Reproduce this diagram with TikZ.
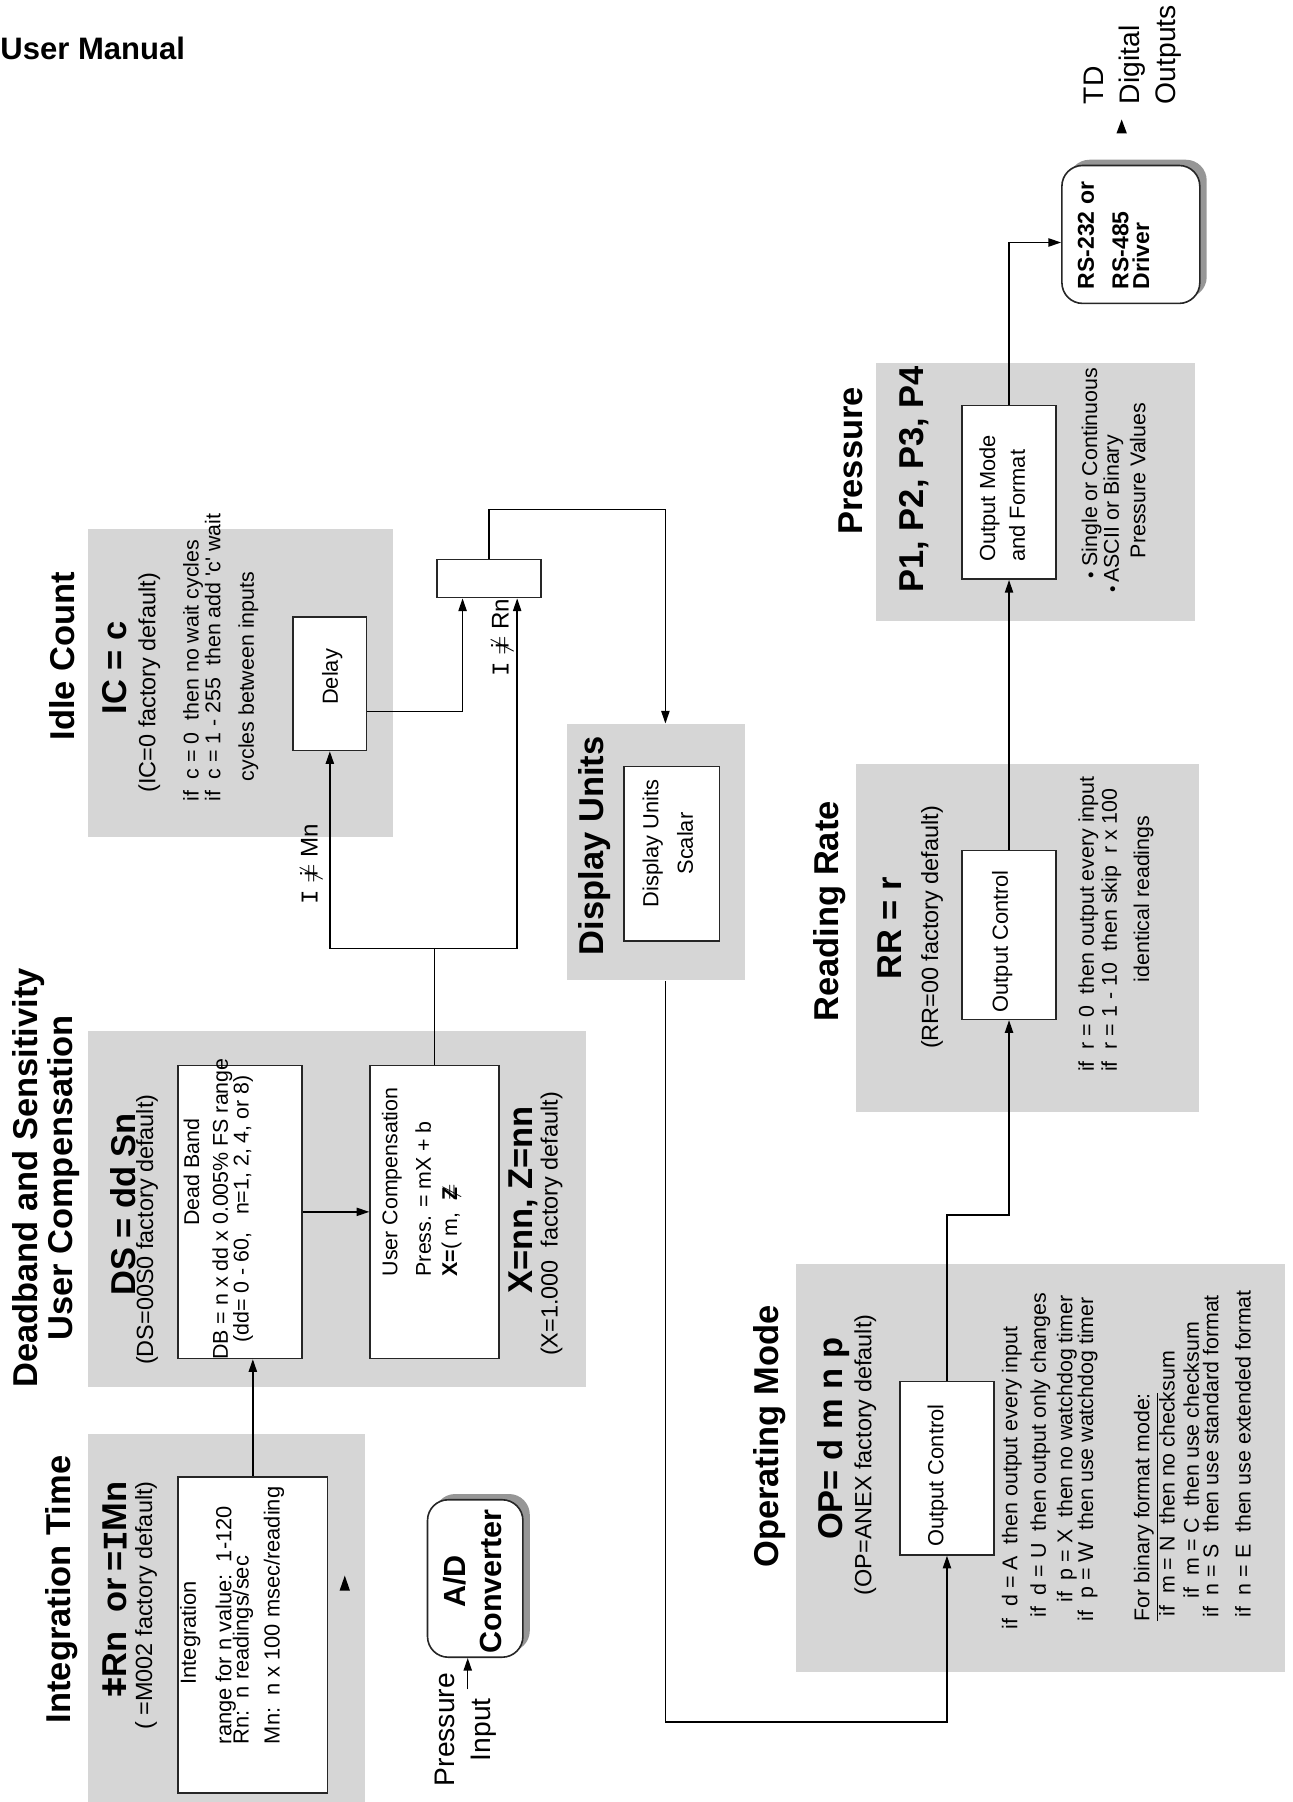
\documentclass[tikz,border=0pt]{standalone}
\usepackage{fontspec}
\setmainfont{Liberation Sans}
\setmonofont{Liberation Mono}
\usetikzlibrary{arrows.meta,positioning,fit,calc,shadows}
\definecolor{panelGray}{RGB}{214,214,214}
\definecolor{shadowGray}{RGB}{150,150,150}
\tikzset{
	panel/.style={fill=panelGray, draw=none, inner sep=0pt},
	box/.style={draw=black!85, fill=white, line width=0.7pt, inner sep=0pt},
	unit/.style={box, rounded corners=9pt, drop shadow={shadow xshift=3pt, shadow yshift=2.5pt, fill=shadowGray, opacity=1}},
	rot/.style={rotate=90, inner sep=0pt},
	heading/.style={rot, font=\bfseries\fontsize{15}{10.5}\selectfont, align=center},
	setting/.style={rot, font=\bfseries\fontsize{15}{17}\selectfont},
	fdefault/.style={rot, font=\fontsize{10.2}{12}\selectfont},
	inbox/.style={rot, font=\fontsize{9.5}{11.5}\selectfont, align=center},
	note/.style={rot, font=\fontsize{9.3}{11}\selectfont, align=left, anchor=west},
	io/.style={rot, font=\fontsize{12.3}{15.5}\selectfont},
	cond/.style={rot, font=\fontsize{10.5}{12}\selectfont},
	flow/.style={-{Triangle[length=5.5pt,width=3.6pt]}, line width=0.6pt},
}
\newcommand{\neqI}{\ooalign{\hfil I\hfil\cr=}}
\newcommand{\neqi}{\ooalign{\hfil i\hfil\cr\hfil$\neq$\hfil}}
\newcommand{\dotb}{{\fontsize{8}{8}\selectfont\textbullet}}

\begin{document}
\begin{tikzpicture}[x=0.5pt, y=-0.5pt]
\useasboundingbox (0,0) rectangle (1125,1568);
\node[font=\bfseries\fontsize{13.5}{15}\selectfont, anchor=west, inner sep=0pt] (manual) at (0,42) {User Manual};

% panels
\node[panel, fit={(77,1248) (318,1568)}] (intPanel) {};
\node[panel, fit={(77,897) (510,1207)}] (dsPanel) {};
\node[panel, fit={(77,460) (342,728)}] (icPanel) {};
\node[panel, fit={(493,630) (648,853)}] (duPanel) {};
\node[panel, fit={(693,1100) (1118,1455)}] (opPanel) {};
\node[panel, fit={(745,665) (1043,968)}] (rrPanel) {};
\node[panel, fit={(762,316) (1040,540)}] (pPanel) {};

% boxes
\node[box, fit={(155,1285) (285,1560)}] (intBox) {};
\node[box, fit={(155,927) (263,1182)}] (dbBox) {};
\node[box, fit={(322,927) (434,1182)}] (ucBox) {};
\node[box, fit={(255,537) (319,653)}] (delayBox) {};
\node[box, fit={(380,487) (471,520)}] (selBox) {};
\node[box, fit={(543,667) (626,819)}] (duBox) {};
\node[box, fit={(783,1202) (865,1353)}] (opBox) {};
\node[box, fit={(837,740) (919,887)}] (rrBox) {};
\node[box, fit={(837,353) (919,504)}] (pBox) {};
\node[unit, fit={(372,1305) (455,1442)}] (adBox) {};
\node[unit, fit={(924,144) (1044,264)}] (rsBox) {};

% connectors
\coordinate (pinTail) at (407,1470);
\draw[flow] (pinTail) -- (pinTail |- adBox.south);
\draw[flow] (intBox.north) -- (intBox.north |- dbBox.south);
\draw[flow] (dbBox.east) -- (ucBox.west);
\draw[flow] (ucBox.north) -- ++(0,-101) coordinate (split) -| (delayBox.south);
\draw[flow] (split) -| ($(selBox.south)+(24.5,0)$);
\draw[flow] ($(delayBox.east)+(0,24)$) -| ($(selBox.south)+(-23,0)$);
\draw[flow] (selBox.north) -- ++(0,-43) -| ($(duPanel.north)+(8.5,0)$);
\draw[flow] ($(duPanel.south)+(8.5,0)$) -- ++(0,645) -| (opBox.south);
\draw[flow] (opBox.north) -- ++(0,-144) -| (rrBox.south);
\draw[flow] (rrBox.north) -- (pBox.south);
\draw[flow] (pBox.north) |- ($(rsBox.west)+(0,7)$);
\fill (300,1371) -- (304.5,1384) -- (295.5,1384) -- cycle;
\fill (976,104) -- (980.5,116) -- (971.5,116) -- cycle;

% Integration Time
\node[heading] (intTitle) at (54,1383) {Integration Time};
\node[setting] (intSet) at (100,1383) {\neqI Rn~~or\,=\texttt{I}Mn};
\node[fdefault] (intDef) at (127,1397) {(~=M002 factory default)};
\node[note, font=\fontsize{9.5}{11.5}\selectfont] (intText) at (202,1518) {\hspace*{26pt}Integration\\[4pt]range for n value:~~1-120\\[-4pt]Rn:~~n readings/sec\\[2pt]Mn:~~n x 100 msec/reading};
\node[rot, font=\bfseries\fontsize{13.3}{15.5}\selectfont, align=center] (adText) at (411,1376) {A/D\\Converter};
\node[io, align=center] (pinText) at (405,1505) {Pressure\\Input};

% Deadband and Sensitivity
\node[heading] (dsTitle) at (40,1025) {Deadband and Sensitivity\\User Compensation};
\node[setting] (dsSet) at (107,1048) {DS = dd Sn};
\node[fdefault] (dsDef) at (128,1070) {(DS=00S0 factory default)};
\node[inbox, font=\fontsize{9.3}{11}\selectfont] (dbText) at (190,1052) {\hspace*{32pt}Dead Band\\[1.5pt]DB = n x dd x 0.005\% FS range\\[-2pt](dd= 0 - 60,~~~n=1, 2, 4, or 8)};
\node[note] (ucText) at (367,1111) {User Compensation\\[3.5pt]Press. = mX + b\\[0.5pt]\textbf{X=}( m,~~\ooalign{\textbf{Z}\cr\hfil$\neq$\hfil}};
\node[setting] (dsX) at (455,1044) {X=nn, Z=nn};
\node[fdefault] (dsXDef) at (480,1065) {(X=1.000~~factory default)};

% Idle Count
\node[heading] (icTitle) at (54,571) {Idle Count};
\node[setting] (icSet) at (100,581) {IC = c};
\node[fdefault] (icDef) at (130,594) {(IC=0 factory default)};
\node[note] (icText) at (192,698) {if~~c = 0~~then no wait cycles\\[-1.5pt]if~~c = 1 - 255~~then add \textquotesingle c\textquotesingle\ wait\\[3.5pt]\hspace*{9pt}cycles between inputs};
\node[inbox] (delayText) at (289,589) {Delay};
\node[cond] (mnCond) at (271,752) {\texttt{I}~\neqi~Mn};
\node[cond] (rnCond) at (437,555) {\texttt{I}~\neqi~Rn};

% Display Units
\node[heading] (duTitle) at (517,736) {Display Units};
\node[inbox] (duText) at (581,734) {Display Units\\[3.5pt]Scalar};

% Operating Mode
\node[heading] (opTitle) at (670,1250) {Operating Mode};
\node[setting] (opSet) at (725,1252) {OP= d m n p};
\node[fdefault] (opDef) at (753,1266) {(OP=ANEX factory default)};
\node[inbox] (opText) at (816,1284) {Output Control};
\node[note] (opNote) at (980,1418) {if~~d = A~~then output every input\\[1.5pt]
\hspace*{5pt}if~~d = U~~then output only changes\\[0.5pt]
\hspace*{11.5pt}if~~p = X~~then no watchdog timer\\[-2pt]
\hspace*{3.5pt}if~~p = W~~then use watchdog timer\\[13.5pt]
\hspace*{3.5pt}\underline{For binary format mode:}\\
\hspace*{5.5pt}if~~m = N~~then no checksum\\[-0.5pt]
\hspace*{13.5pt}if~~m = C~~then use checksum\\[-2.5pt]
\hspace*{5pt}if~~n = S~~then use standard format\\[3pt]
\hspace*{5pt}if~~n = E~~then use extended format};

% Reading Rate
\node[heading] (rrTitle) at (722,793) {Reading Rate};
\node[setting] (rrSet) at (774,808) {RR = r};
\node[fdefault] (rrDef) at (811,807) {(RR=00 factory default)};
\node[inbox] (rrText) at (872,819) {Output Control};
\node[note] (rrNote) at (971,933) {if~~r = 0~~then output every input\\[-1pt]if~~r = 1 - 10~~then skip~~r x 100\\[3pt]\hspace*{39pt}identical readings};

% Pressure
\node[heading] (pTitle) at (740,401) {Pressure};
\node[setting] (pSet) at (795,417) {P1, P2, P3, P4};
\node[note, font=\fontsize{9.5}{13}\selectfont] (pText) at (872,489) {Output Mode\\and Format};
\node[note] (pNote) at (969,516) {\hspace*{6pt}\dotb~Single or Continuous\\[-1.5pt]\dotb\,ASCII or Binary\\[0.5pt]\hspace*{15pt}Pressure Values};

% driver and outputs
\node[note, font=\bfseries\fontsize{10}{12}\selectfont] (rsText) at (969,252) {RS-232 or\\[3pt]RS-485\\[-3pt]Driver};
\node[io, align=left, anchor=west] (tdText) at (985.5,91) {TD\\Digital\\Outputs};
\end{tikzpicture}
\end{document}
